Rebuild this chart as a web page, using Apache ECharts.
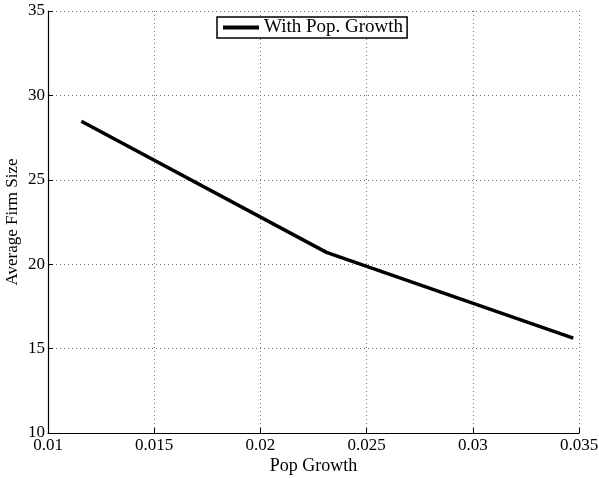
<!DOCTYPE html>
<html>
<head>
<meta charset="utf-8">
<script src="https://cdn.jsdelivr.net/npm/echarts@6/dist/echarts.min.js"></script>
<style>
  html, body { margin: 0; padding: 0; background: #fff; }
  #main { width: 599px; height: 478px; }
</style>
</head>
<body>
<div id="main"></div>
<script>
// data
const popGrowth = [0.01157, 0.02311, 0.03473];
const firmSize = [28.47, 20.70, 15.62];
const seriesName = 'With Pop. Growth';
const xTicks = [0.01, 0.015, 0.02, 0.025, 0.03, 0.035];
const yTicks = [10, 15, 20, 25, 30, 35];

const font = 'Liberation Serif';
const chart = echarts.init(document.getElementById('main'));

const gridLine = { show: true, lineStyle: { color: '#777', width: 1, type: [1, 3] } };

chart.setOption({
  animation: false,
  textStyle: { fontFamily: font, color: '#000' },
  legend: {
    data: [{ name: seriesName, icon: 'rect' }],
    left: 217,
    top: 17,
    padding: [1, 4, 1, 6],
    itemWidth: 36,
    itemHeight: 4,
    itemGap: 4,
    borderColor: '#000',
    borderWidth: 1.5,
    backgroundColor: '#fff',
    textStyle: { fontFamily: font, fontSize: 19, color: '#000', padding: [0, 0, 0, 0] }
  },
  grid: { left: 48, right: 20, top: 11, bottom: 45, outerBoundsMode: 'none', containLabel: false },
  xAxis: {
    type: 'value',
    min: xTicks[0],
    max: xTicks[xTicks.length - 1],
    interval: 0.005,
    name: 'Pop Growth',
    nameLocation: 'middle',
    nameGap: 24,
    nameMoveOverlap: false,
    nameTextStyle: { fontFamily: font, fontSize: 18, color: '#000' },
    axisLine: { show: true, onZero: false, lineStyle: { color: '#000', width: 1.2 } },
    axisTick: { show: true, inside: true, length: 5, lineStyle: { color: '#000' } },
    axisLabel: {
      fontFamily: font, fontSize: 17, color: '#000', margin: 4,
      formatter: v => String(parseFloat(v.toFixed(4)))
    },
    splitLine: gridLine
  },
  yAxis: {
    type: 'value',
    min: yTicks[0],
    max: yTicks[yTicks.length - 1],
    interval: 5,
    name: 'Average Firm Size',
    nameLocation: 'middle',
    nameGap: 27,
    nameMoveOverlap: false,
    nameTextStyle: { fontFamily: font, fontSize: 17, color: '#000' },
    axisLine: { show: true, lineStyle: { color: '#000', width: 1.2 } },
    axisTick: { show: true, inside: true, length: 5, lineStyle: { color: '#000' } },
    axisLabel: { fontFamily: font, fontSize: 17, color: '#000', margin: 3 },
    splitLine: gridLine
  },
  series: [{
    name: seriesName,
    type: 'line',
    data: popGrowth.map((x, i) => [x, firmSize[i]]),
    symbol: 'none',
    lineStyle: { color: '#000', width: 3.5 },
    itemStyle: { color: '#000' }
  }]
});
</script>
</body>
</html>
